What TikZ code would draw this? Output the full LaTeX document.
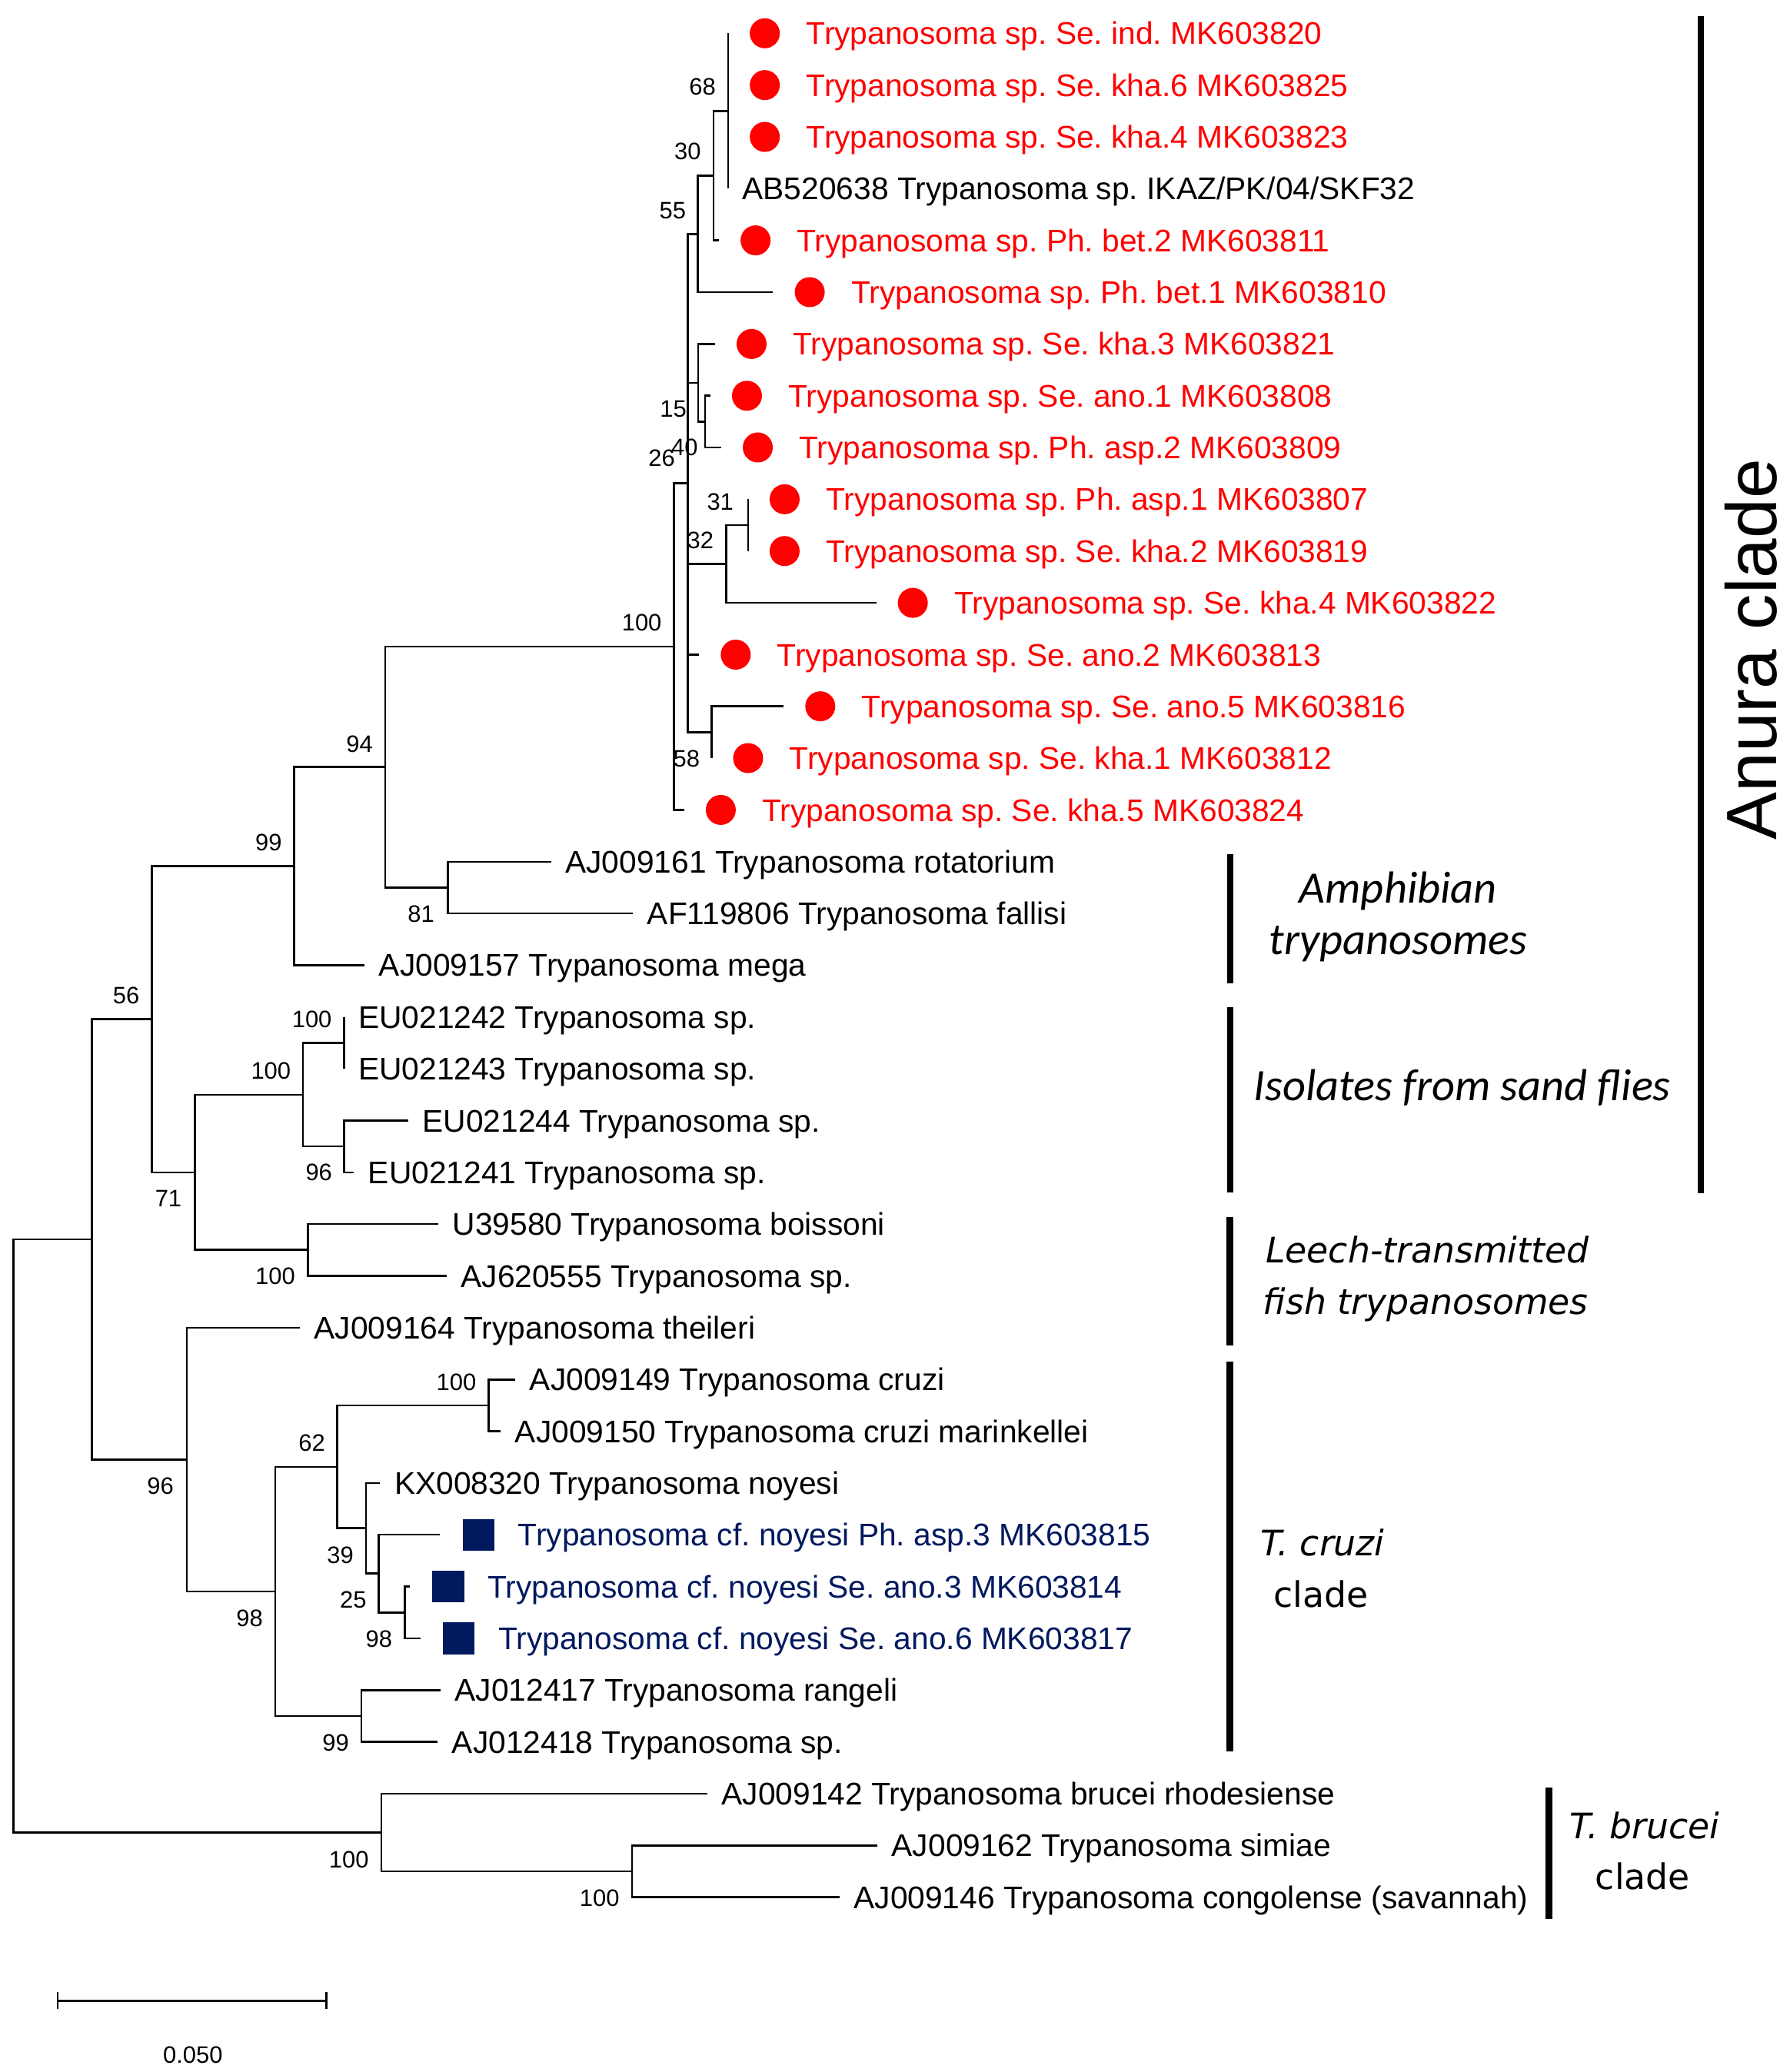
\documentclass[tikz,border=0pt]{standalone}
\usepackage{fontspec}
\setmainfont{Liberation Sans}
\newfontfamily\calfont{Carlito}
\newfontfamily\verfont{DejaVu Sans}
\usetikzlibrary{arrows.meta}
\definecolor{sqblue}{RGB}{0,25,95}
\newcommand{\tipfont}{\fontsize{11.85pt}{14pt}\selectfont}
\newcommand{\bootfont}{\fontsize{9pt}{10.8pt}\selectfont}
\frenchspacing

\tikzstyle{brline}=[line width=0.75pt]
\tikzstyle{cladebar}=[line width=2.45pt]
\tikzstyle{leaf}=[anchor=west, inner sep=0pt, text height=8.48pt, text depth=0pt, font=\tipfont]
\tikzstyle{plainleaf}=[leaf, xshift=5.2pt]
\tikzstyle{redleaf}=[leaf, text=red, xshift=29.35pt]
\tikzstyle{blueleaf}=[leaf, text=sqblue, xshift=29.35pt]
\tikzstyle{reddot}=[circle, fill=red, inner sep=0pt, minimum size=11.35pt, xshift=13.85pt]
\tikzstyle{bluesq}=[rectangle, fill=sqblue, inner sep=0pt, minimum size=12pt, xshift=14.6pt]
\tikzstyle{bootlab}=[inner sep=0pt, text height=6.44pt, text depth=0pt, font=\bootfont]
\tikzstyle{grp}=[anchor=base, inner sep=0pt, font=\calfont\itshape\fontsize{17pt}{20pt}\selectfont]
\tikzstyle{grpv}=[anchor=base, inner sep=0pt, font=\verfont\fontsize{13.3pt}{16pt}\selectfont]

\begin{document}
\begin{tikzpicture}[x=0.5pt, y=-0.5pt]
	\useasboundingbox (0,0) rectangle (1354,1568);
	\fill[white] (0,0) rectangle (1354,1568);

	% inner nodes
	\coordinate (root)  at (10.2,1162.3);
	\coordinate (n69)   at (69.4,937.9);
	\coordinate (n56)   at (115,771.3);
	\coordinate (n99a)  at (222.6,655.4);
	\coordinate (n94)   at (291.5,580.4);
	\coordinate (n100a) at (510,489.2);
	\coordinate (n26)   at (520.5,365.6);
	\coordinate (n55)   at (528,177.0);
	\coordinate (n30)   at (540,133.0);
	\coordinate (n68)   at (551,84.0);
	\coordinate (n15)   at (528.3,289.7);
	\coordinate (n40)   at (533.5,319.1);
	\coordinate (n32)   at (549.6,426.8);
	\coordinate (n31)   at (566,397.4);
	\coordinate (n58)   at (538.4,554.1);
	\coordinate (n81)   at (339,671.7);
	\coordinate (n71)   at (147.6,887.2);
	\coordinate (n100b) at (229.3,828.4);
	\coordinate (n100c) at (260.4,789.2);
	\coordinate (n96a)  at (260.4,867.6);
	\coordinate (n100d) at (233,945.9);
	\coordinate (n96b)  at (141.3,1104.5);
	\coordinate (n98a)  at (208.2,1204.3);
	\coordinate (n62)   at (255,1110.0);
	\coordinate (n100e) at (369.7,1063.5);
	\coordinate (n39)   at (277,1156.5);
	\coordinate (n25)   at (286.7,1190.8);
	\coordinate (n98b)  at (306.4,1220.2);
	\coordinate (n99b)  at (273.4,1298.6);
	\coordinate (n100f) at (288.5,1386.7);
	\coordinate (n100g) at (478.2,1416.1);

	% leaves
	\coordinate (t1)  at (551,25.2);
	\coordinate (t2)  at (551,64.4);
	\coordinate (t3)  at (551,103.6);
	\coordinate (t4)  at (551,142.7);
	\coordinate (t5)  at (544,181.9);
	\coordinate (t6)  at (585,221.1);
	\coordinate (t7)  at (541,260.3);
	\coordinate (t8)  at (537.5,299.5);
	\coordinate (t9)  at (545.7,338.6);
	\coordinate (t10) at (566,377.8);
	\coordinate (t11) at (566,417.0);
	\coordinate (t12) at (663,456.2);
	\coordinate (t13) at (529,495.4);
	\coordinate (t14) at (593,534.5);
	\coordinate (t15) at (538.4,573.7);
	\coordinate (t16) at (517.7,612.9);
	\coordinate (t17) at (417,652.1);
	\coordinate (t18) at (479,691.3);
	\coordinate (t19) at (276,730.4);
	\coordinate (t20) at (260.4,769.6);
	\coordinate (t21) at (260.4,808.8);
	\coordinate (t22) at (309,848.0);
	\coordinate (t23) at (267.8,887.2);
	\coordinate (t24) at (331.7,926.3);
	\coordinate (t25) at (338,965.5);
	\coordinate (t26) at (227,1004.7);
	\coordinate (t27) at (390,1043.9);
	\coordinate (t28) at (379,1083.1);
	\coordinate (t29) at (287.7,1122.2);
	\coordinate (t30) at (333,1161.4);
	\coordinate (t31) at (310,1200.6);
	\coordinate (t32) at (318,1239.8);
	\coordinate (t33) at (333.4,1279.0);
	\coordinate (t34) at (331.3,1318.1);
	\coordinate (t35) at (535.3,1357.3);
	\coordinate (t36) at (664,1396.5);
	\coordinate (t37) at (635.3,1435.7);

	\draw[brline] (root) |- (n69) (root) |- (n100f);
	\draw[brline] (n69) |- (n56) (n69) |- (n96b);
	\draw[brline] (n56) |- (n99a) (n56) |- (n71);
	\draw[brline] (n99a) |- (n94) (n99a) |- (t19);
	\draw[brline] (n94) |- (n100a) (n94) |- (n81);
	\draw[brline] (n100a) |- (n26) (n100a) |- (t16);
	\draw[brline] (n26) |- (n55) (n26) |- (n15) (n26) |- (n32) (n26) |- (t13) (n26) |- (n58);
	\draw[brline] (n55) |- (n30) (n55) |- (t6);
	\draw[brline] (n30) |- (n68) (n30) |- (t5);
	\draw[brline] (t1) -- (t4);
	\draw[brline] (n15) |- (t7) (n15) |- (n40);
	\draw[brline] (n40) |- (t8) (n40) |- (t9);
	\draw[brline] (n32) |- (n31) (n32) |- (t12);
	\draw[brline] (t10) -- (t11);
	\draw[brline] (n58) |- (t14) (n58) |- (t15);
	\draw[brline] (n81) |- (t17) (n81) |- (t18);
	\draw[brline] (n71) |- (n100b) (n71) |- (n100d);
	\draw[brline] (n100b) |- (n100c) (n100b) |- (n96a);
	\draw[brline] (t20) -- (t21);
	\draw[brline] (n96a) |- (t22) (n96a) |- (t23);
	\draw[brline] (n100d) |- (t24) (n100d) |- (t25);
	\draw[brline] (n96b) |- (t26) (n96b) |- (n98a);
	\draw[brline] (n98a) |- (n62) (n98a) |- (n99b);
	\draw[brline] (n62) |- (n100e) (n62) |- (n39);
	\draw[brline] (n100e) |- (t27) (n100e) |- (t28);
	\draw[brline] (n39) |- (t29) (n39) |- (n25);
	\draw[brline] (n25) |- (t30) (n25) |- (n98b);
	\draw[brline] (n98b) |- (t31) (n98b) |- (t32);
	\draw[brline] (n99b) |- (t33) (n99b) |- (t34);
	\draw[brline] (n100f) |- (t35) (n100f) |- (n100g);
	\draw[brline] (n100g) |- (t36) (n100g) |- (t37);

	\node [reddot] (m1) at (t1) {};
	\node [redleaf] (l1) at (t1) {Trypanosoma sp. Se. ind. MK603820};
	\node [reddot] (m2) at (t2) {};
	\node [redleaf] (l2) at (t2) {Trypanosoma sp. Se. kha.6 MK603825};
	\node [reddot] (m3) at (t3) {};
	\node [redleaf] (l3) at (t3) {Trypanosoma sp. Se. kha.4 MK603823};
	\node [plainleaf] (l4) at (t4) {AB520638 Trypanosoma sp. IKAZ/PK/04/SKF32};
	\node [reddot] (m5) at (t5) {};
	\node [redleaf] (l5) at (t5) {Trypanosoma sp. Ph. bet.2 MK603811};
	\node [reddot] (m6) at (t6) {};
	\node [redleaf] (l6) at (t6) {Trypanosoma sp. Ph. bet.1 MK603810};
	\node [reddot] (m7) at (t7) {};
	\node [redleaf] (l7) at (t7) {Trypanosoma sp. Se. kha.3 MK603821};
	\node [reddot] (m8) at (t8) {};
	\node [redleaf] (l8) at (t8) {Trypanosoma sp. Se. ano.1 MK603808};
	\node [reddot] (m9) at (t9) {};
	\node [redleaf] (l9) at (t9) {Trypanosoma sp. Ph. asp.2 MK603809};
	\node [reddot] (m10) at (t10) {};
	\node [redleaf] (l10) at (t10) {Trypanosoma sp. Ph. asp.1 MK603807};
	\node [reddot] (m11) at (t11) {};
	\node [redleaf] (l11) at (t11) {Trypanosoma sp. Se. kha.2 MK603819};
	\node [reddot] (m12) at (t12) {};
	\node [redleaf] (l12) at (t12) {Trypanosoma sp. Se. kha.4 MK603822};
	\node [reddot] (m13) at (t13) {};
	\node [redleaf] (l13) at (t13) {Trypanosoma sp. Se. ano.2 MK603813};
	\node [reddot] (m14) at (t14) {};
	\node [redleaf] (l14) at (t14) {Trypanosoma sp. Se. ano.5 MK603816};
	\node [reddot] (m15) at (t15) {};
	\node [redleaf] (l15) at (t15) {Trypanosoma sp. Se. kha.1 MK603812};
	\node [reddot] (m16) at (t16) {};
	\node [redleaf] (l16) at (t16) {Trypanosoma sp. Se. kha.5 MK603824};
	\node [plainleaf] (l17) at (t17) {AJ009161 Trypanosoma rotatorium};
	\node [plainleaf] (l18) at (t18) {AF119806 Trypanosoma fallisi};
	\node [plainleaf] (l19) at (t19) {AJ009157 Trypanosoma mega};
	\node [plainleaf] (l20) at (t20) {EU021242 Trypanosoma sp.};
	\node [plainleaf] (l21) at (t21) {EU021243 Trypanosoma sp.};
	\node [plainleaf] (l22) at (t22) {EU021244 Trypanosoma sp.};
	\node [plainleaf] (l23) at (t23) {EU021241 Trypanosoma sp.};
	\node [plainleaf] (l24) at (t24) {U39580 Trypanosoma boissoni};
	\node [plainleaf] (l25) at (t25) {AJ620555 Trypanosoma sp.};
	\node [plainleaf] (l26) at (t26) {AJ009164 Trypanosoma theileri};
	\node [plainleaf] (l27) at (t27) {AJ009149 Trypanosoma cruzi};
	\node [plainleaf] (l28) at (t28) {AJ009150 Trypanosoma cruzi marinkellei};
	\node [plainleaf] (l29) at (t29) {KX008320 Trypanosoma noyesi};
	\node [bluesq] (m30) at (t30) {};
	\node [blueleaf] (l30) at (t30) {Trypanosoma cf. noyesi Ph. asp.3 MK603815};
	\node [bluesq] (m31) at (t31) {};
	\node [blueleaf] (l31) at (t31) {Trypanosoma cf. noyesi Se. ano.3 MK603814};
	\node [bluesq] (m32) at (t32) {};
	\node [blueleaf] (l32) at (t32) {Trypanosoma cf. noyesi Se. ano.6 MK603817};
	\node [plainleaf] (l33) at (t33) {AJ012417 Trypanosoma rangeli};
	\node [plainleaf] (l34) at (t34) {AJ012418 Trypanosoma sp.};
	\node [plainleaf] (l35) at (t35) {AJ009142 Trypanosoma brucei rhodesiense};
	\node [plainleaf] (l36) at (t36) {AJ009162 Trypanosoma simiae};
	\node [plainleaf] (l37) at (t37) {AJ009146 Trypanosoma congolense (savannah)};

	% bootstrap values
	\node [bootlab] (b68)   at (531.6,65.4)  {68};
	\node [bootlab] (b30)   at (520.4,114.4) {30};
	\node [bootlab] (b55)   at (509,159)     {55};
	\node [bootlab] (b15)   at (509.4,309.2) {15};
	\node [bootlab] (b26)   at (500.7,346.5) {26};
	\node [bootlab] (b40)   at (518,338.3)   {40};
	\node [bootlab] (b31)   at (545,379.5)   {31};
	\node [bootlab] (b32)   at (530,408.6)   {32};
	\node [bootlab] (b58)   at (519.5,574)   {58};
	\node [bootlab] (b100a) at (485.6,470.8) {100};
	\node [bootlab] (b94)   at (272,562.7)   {94};
	\node [bootlab] (b99a)  at (203.3,637.3) {99};
	\node [bootlab] (b81)   at (318.6,691.3) {81};
	\node [bootlab] (b56)   at (95.5,753.2)  {56};
	\node [bootlab] (b100b) at (236,771.3)   {100};
	\node [bootlab] (b100c) at (205,810.4)   {100};
	\node [bootlab] (b96a)  at (241.3,887)   {96};
	\node [bootlab] (b71)   at (127.4,906.8) {71};
	\node [bootlab] (b100d) at (208.3,965.5) {100};
	\node [bootlab] (b96b)  at (121.4,1124.5) {96};
	\node [bootlab] (b100e) at (345.3,1045.7) {100};
	\node [bootlab] (b62)   at (236,1091.5)  {62};
	\node [bootlab] (b39)   at (257.5,1176.4) {39};
	\node [bootlab] (b25)   at (267.3,1210.5) {25};
	\node [bootlab] (b98a)  at (286.7,1240.2) {98};
	\node [bootlab] (b98b)  at (188.9,1224.3) {98};
	\node [bootlab] (b99b)  at (254,1318.8)  {99};
	\node [bootlab] (b100f) at (264,1406.8)  {100};
	\node [bootlab] (b100g) at (453.7,1436)  {100};

	% clade bars
	\coordinate (anuraA)  at (1287,12);
	\coordinate (anuraB)  at (1287,903);
	\coordinate (amphA)   at (931,646.5);
	\coordinate (amphB)   at (931,744);
	\coordinate (sandA)   at (931,762);
	\coordinate (sandB)   at (931,902.4);
	\coordinate (leechA)  at (930.5,921);
	\coordinate (leechB)  at (930.5,1018);
	\coordinate (cruziA)  at (930.5,1030.4);
	\coordinate (cruziB)  at (930.5,1325.5);
	\coordinate (bruceiA) at (1172,1352.6);
	\coordinate (bruceiB) at (1172,1452);
	\draw[cladebar] (anuraA) -- (anuraB);
	\draw[cladebar] (amphA) -- (amphB);
	\draw[cladebar] (sandA) -- (sandB);
	\draw[cladebar] (leechA) -- (leechB);
	\draw[cladebar] (cruziA) -- (cruziB);
	\draw[cladebar] (bruceiA) -- (bruceiB);

	\node [rotate=90, anchor=base, inner sep=0pt, font=\fontsize{27pt}{32pt}\selectfont] (anura) at (1344,491.5) {Anura clade};
	\node [grp] (amph1) at (1058,683.4) {Amphibian};
	\node [grp] (amph2) at (1058,722.2) {trypanosomes};
	\node [grp] (sand) at (1106.5,832.7) {Isolates from sand flies};
	\node [grpv] (leech1) at (1080,955.5) {\itshape Leech-transmitted};
	\node [grpv] (leech2) at (1078.8,994.7) {\itshape fish trypanosomes};
	\node [grpv] (cruzi1) at (1000.7,1177.4) {\itshape T. cruzi};
	\node [grpv] (cruzi2) at (999.5,1216) {clade};
	\node [grpv] (brucei1) at (1244.4,1391.5) {\itshape T. brucei};
	\node [grpv] (brucei2) at (1243,1430) {clade};

	% scale bar
	\coordinate (sbL) at (42.8,1514);
	\coordinate (sbR) at (247.7,1514);
	\draw[brline, arrows={Bar[width=6.5pt]-Bar[width=6.5pt]}] (sbL) -- (sbR);
	\node [bootlab] (sblab) at (145.9,1554.9) {0.050};
\end{tikzpicture}
\end{document}
